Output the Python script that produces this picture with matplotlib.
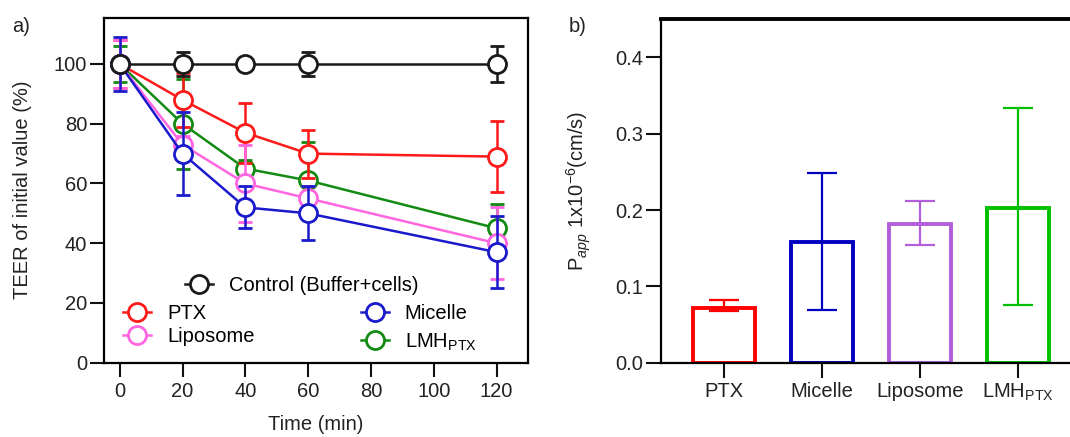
import numpy as np
import matplotlib
matplotlib.use('Agg')
import matplotlib.pyplot as plt
from matplotlib.lines import Line2D

plt.rcParams['font.family'] = ['Liberation Sans', 'DejaVu Sans']
plt.rcParams['mathtext.fontset'] = 'custom'
plt.rcParams['mathtext.rm'] = 'Liberation Sans'
plt.rcParams['mathtext.it'] = 'Liberation Sans:italic'
plt.rcParams['mathtext.bf'] = 'Liberation Sans:bold'

# TEER data (panel a)
time = [0, 20, 40, 60, 120]
control = [100, 100, 100, 100, 100]
control_err = [0, 4, 0, 4, 6]
ptx = [100, 88, 77, 70, 69]
ptx_err = [8, 9, 10, 8, 12]
liposome = [100, 73, 60, 55, 40]
liposome_err = [8, 3, 13, 4, 12]
micelle = [100, 70, 52, 50, 37]
micelle_err = [9, 14, 7, 9, 12]
lmh = [100, 80, 65, 61, 45]
lmh_err = [6, 15, 3, 13, 8]

# Papp data (panel b)
groups = ['PTX', 'Micelle', 'Liposome', r'LMH$_{\mathrm{PTX}}$']
papp = [0.072, 0.158, 0.182, 0.203]
papp_lo = [0.068, 0.069, 0.154, 0.075]
papp_hi = [0.082, 0.249, 0.212, 0.334]

txt = '#222222'
fs = 14.5
fig = plt.figure(figsize=(10.7, 4.37), dpi=100)

# ---------- panel a ----------
ax = fig.add_axes([104/1070, 1-362.7/437, (528-104)/1070, (362.7-17.7)/437])
series = [
    ('PTX', ptx, ptx_err, '#ff1a1a', 3),
    ('Liposome', liposome, liposome_err, '#ff66e0', 4),
    ('Micelle', micelle, micelle_err, '#1a1acc', 5),
    (r'LMH$_{\mathrm{PTX}}$', lmh, lmh_err, '#138a13', 2),
    ('Control (Buffer+cells)', control, control_err, '#1a1a1a', 6),
]
handles = {}
for name, y, e, c, z in series:
    ax.errorbar(time, y, yerr=e, color=c, lw=1.8, marker='o', ms=13,
                mfc='white', mec=c, mew=2, capsize=5, capthick=1.8,
                elinewidth=1.8, zorder=z)
    handles[name] = Line2D([], [], color=c, lw=1.8, marker='o', ms=13,
                           mfc='white', mec=c, mew=2)

ax.set_xlim(-5, 130)
ax.set_ylim(0, 115.5)
ax.set_xticks([0, 20, 40, 60, 80, 100, 120])
ax.set_yticks([0, 20, 40, 60, 80, 100])
for s in ax.spines.values():
    s.set_linewidth(1.6)
ax.tick_params(axis='both', labelsize=fs, width=1.5, length=10, colors='#111111',
               labelcolor=txt)
ax.tick_params(axis='x', pad=4)
ax.tick_params(axis='y', pad=2)
ax.set_xlabel('Time (min)', fontsize=fs, color=txt, labelpad=10)
ax.set_ylabel('TEER of initial value (%)', fontsize=fs, color=txt, labelpad=16)

leg_kw = dict(frameon=False, fontsize=fs, borderpad=0, borderaxespad=0,
              handlelength=1.4, handletextpad=0.8, labelspacing=0.2,
              loc='center left')
l1 = ax.legend([handles['Control (Buffer+cells)']], ['Control (Buffer+cells)'],
               bbox_to_anchor=(0.19, 0.225), **leg_kw)
ax.add_artist(l1)
l2 = ax.legend([handles['PTX'], handles['Liposome']], ['PTX', 'Liposome'],
               bbox_to_anchor=(0.045, 0.108), **leg_kw)
ax.add_artist(l2)
leg_kw['labelspacing'] = 0.42
ax.legend([handles['Micelle'], handles[r'LMH$_{\mathrm{PTX}}$']],
          ['Micelle', r'LMH$_{\mathrm{PTX}}$'],
          bbox_to_anchor=(0.605, 0.10), **leg_kw)

fig.text(12/1070, 1-27/437, 'a)', fontsize=fs, color=txt, va='center')

# ---------- panel b ----------
bx = fig.add_axes([661/1070, 1-362.7/437, (1070-661)/1070, (362.7-19.3)/437])
bar_colors = ['#ff0000', '#0000c0', '#b35fdc', '#00c000']
xpos = np.arange(len(groups))
bx.bar(xpos, papp, width=0.63, fill=False, edgecolor=bar_colors, linewidth=2.8)
for i in range(len(groups)):
    bx.errorbar(xpos[i], papp[i],
                yerr=[[papp[i] - papp_lo[i]], [papp_hi[i] - papp[i]]],
                color=bar_colors[i], lw=1.6, capsize=11, capthick=1.6,
                fmt='none')
bx.set_xlim(-0.64, 3.53)
bx.set_ylim(0, 0.45)
bx.set_yticks([0.0, 0.1, 0.2, 0.3, 0.4])
bx.set_yticklabels(['0.0', '0.1', '0.2', '0.3', '0.4'])
bx.set_xticks(xpos)
bx.set_xticklabels(groups)
bx.spines['right'].set_visible(False)
bx.spines['top'].set_linewidth(2.8)
bx.spines['left'].set_linewidth(1.6)
bx.spines['bottom'].set_linewidth(1.6)
bx.tick_params(axis='both', labelsize=fs, width=1.5, length=11, colors='#111111',
               labelcolor=txt)
bx.tick_params(axis='x', pad=3)
bx.tick_params(axis='y', pad=2)
bx.set_ylabel(r'P$_{app}$ 1x10$^{-6}$(cm/s)', fontsize=fs, color=txt, labelpad=16)

fig.text(569/1070, 1-27/437, 'b)', fontsize=fs, color=txt, va='center')

fig.savefig('out.png', dpi=100)
